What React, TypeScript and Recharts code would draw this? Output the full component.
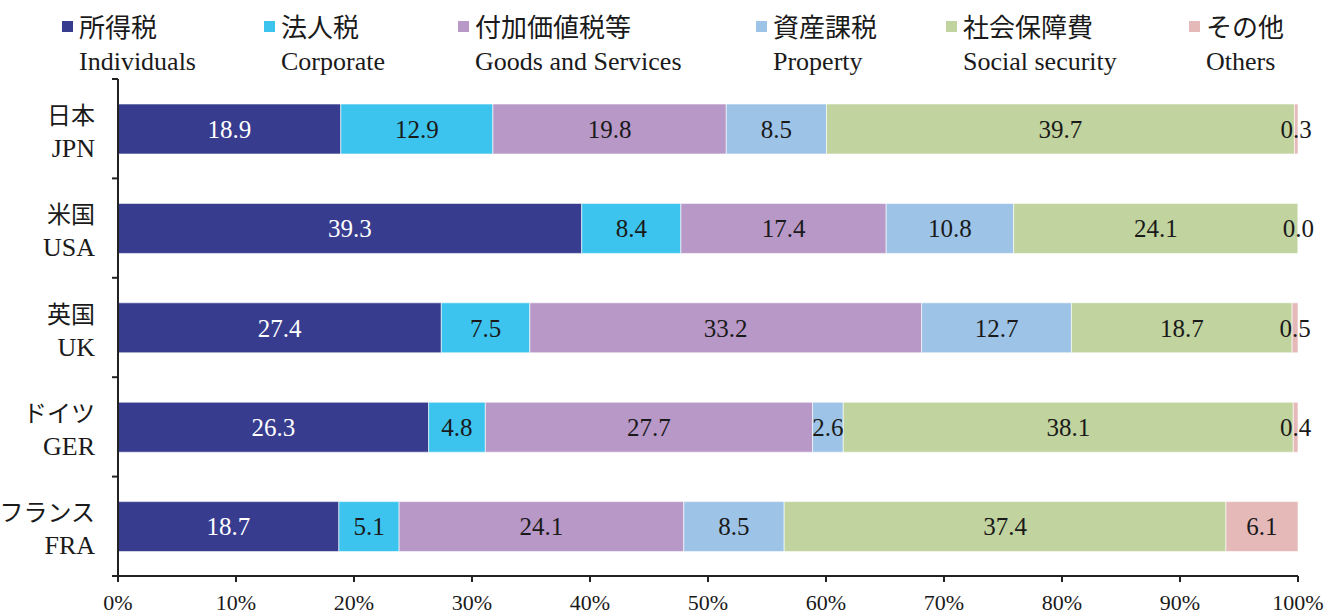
import { BarChart, Bar, XAxis, YAxis, LabelList, Legend } from "recharts";

const countryJa = ["日本", "米国", "英国", "ドイツ", "フランス"];
const countryEn = ["JPN", "USA", "UK", "GER", "FRA"];

const individuals = [18.9, 39.3, 27.4, 26.3, 18.7];
const corporate = [12.9, 8.4, 7.5, 4.8, 5.1];
const goods = [19.8, 17.4, 33.2, 27.7, 24.1];
const property = [8.5, 10.8, 12.7, 2.6, 8.5];
const social = [39.7, 24.1, 18.7, 38.1, 37.4];
const others = [0.3, 0.0, 0.5, 0.4, 6.1];

const xTicks = [0, 0.1, 0.2, 0.3, 0.4, 0.5, 0.6, 0.7, 0.8, 0.9, 1];

const series = [
  { key: "individuals", ja: "所得税", en: "Individuals", color: "#373c8f", label: "#ffffff", lx: 62 },
  { key: "corporate", ja: "法人税", en: "Corporate", color: "#3cc4ee", label: "#1a1a1a", lx: 264 },
  { key: "goods", ja: "付加価値税等", en: "Goods and Services", color: "#b898c7", label: "#1a1a1a", lx: 458 },
  { key: "property", ja: "資産課税", en: "Property", color: "#9dc4e7", label: "#1a1a1a", lx: 756 },
  { key: "social", ja: "社会保障費", en: "Social security", color: "#c1d39e", label: "#1a1a1a", lx: 946 },
  { key: "others", ja: "その他", en: "Others", color: "#e6b9b9", label: "#1a1a1a", lx: 1189 },
];

const data = countryJa.map((ja, i) => ({
  ja,
  en: countryEn[i],
  individuals: individuals[i],
  corporate: corporate[i],
  goods: goods[i],
  property: property[i],
  social: social[i],
  others: others[i],
}));

const FONT = "'Liberation Serif', 'Noto Sans CJK JP', serif";
const AXIS = "#222";
const BAND = 497 / 5;

function CountryTick(props: any) {
  const { x, y, payload, index } = props;
  const row = data.find((d) => d.ja === payload.value);
  return (
    <g>
      <line x1={118} x2={112} y1={y - BAND / 2} y2={y - BAND / 2} stroke={AXIS} strokeWidth={2} />
      {index === data.length - 1 && (
        <line x1={118} x2={112} y1={y + BAND / 2} y2={y + BAND / 2} stroke={AXIS} strokeWidth={2} />
      )}
      <text x={x} y={y - 5} textAnchor="end" fontSize={24} fill="#1a1a1a" style={{ fontFamily: FONT }}>
        {payload.value}
      </text>
      <text x={x} y={y + 28} textAnchor="end" fontSize={26} fill="#1a1a1a" style={{ fontFamily: FONT }}>
        {row ? row.en : ""}
      </text>
    </g>
  );
}

function TopLegend() {
  return (
    <svg width={1327} height={79} style={{ display: "block" }}>
      {series.map((s) => (
        <g key={s.key}>
          <rect x={s.lx} y={21} width={11} height={11} fill={s.color} />
          <text x={s.lx + 17} y={37} fontSize={26} fill="#1a1a1a" style={{ fontFamily: FONT }}>
            {s.ja}
          </text>
          <text x={s.lx + 17} y={70} fontSize={26} fill="#1a1a1a" style={{ fontFamily: FONT }}>
            {s.en}
          </text>
        </g>
      ))}
    </svg>
  );
}

export default function App() {
  return (
    <div style={{ position: "absolute", left: 0, top: 0, width: 1327, height: 615, background: "#fff", fontFamily: FONT }}>
      <BarChart
        width={1327}
        height={615}
        data={data}
        layout="vertical"
        stackOffset="expand"
        barSize={50}
        margin={{ top: 0, right: 29, bottom: 0, left: 0 }}
      >
        <XAxis
          type="number"
          domain={[0, 1]}
          ticks={xTicks}
          tickFormatter={(v: number) => `${Math.round(v * 100)}%`}
          height={39}
          tickSize={6}
          tickMargin={12}
          axisLine={{ stroke: AXIS, strokeWidth: 2 }}
          tickLine={{ stroke: AXIS, strokeWidth: 2 }}
          tick={{ fontSize: 22, fill: "#1a1a1a", style: { fontFamily: FONT } }}
          allowDataOverflow
        />
        <YAxis
          type="category"
          dataKey="ja"
          width={118}
          tickLine={false}
          tickSize={0}
          tickMargin={23}
          axisLine={{ stroke: AXIS, strokeWidth: 2 }}
          tick={<CountryTick />}
        />
        <Legend verticalAlign="top" height={79} wrapperStyle={{ top: 0, left: 0 }} content={() => <TopLegend />} />
        {series.map((s) => (
          <Bar
            key={s.key}
            dataKey={s.key}
            name={s.ja}
            stackId="a"
            fill={s.color}
            stroke="#ffffff"
            strokeWidth={0.6}
            minPointSize={s.key === "others" ? 0.5 : 0}
            isAnimationActive={false}
          >
            <LabelList
              dataKey={s.key}
              position="center"
              formatter={(v: any) => Number(v).toFixed(1)}
              fill={s.label}
              fontSize={25}
              style={{ fontFamily: FONT }}
            />
          </Bar>
        ))}
      </BarChart>
    </div>
  );
}
